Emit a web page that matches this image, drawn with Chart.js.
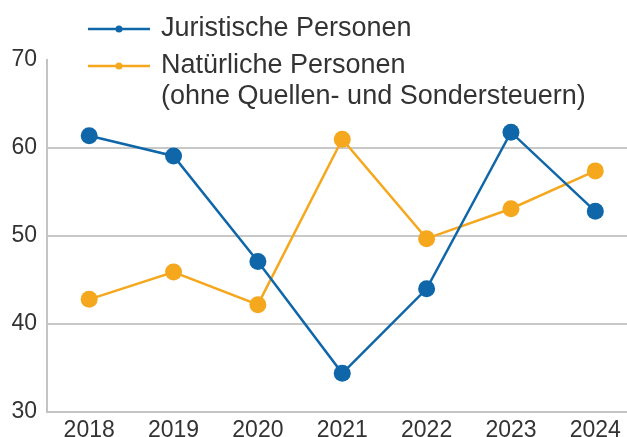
<!DOCTYPE html>
<html>
<head>
<meta charset="utf-8">
<script src="https://cdn.jsdelivr.net/npm/chart.js@4/dist/chart.umd.min.js"></script>
<style>
  html, body { margin: 0; padding: 0; background: #fff; overflow: hidden; }
  #wrap { width: 646px; height: 437px; }
</style>
</head>
<body>
<div id="wrap"><canvas id="chart" width="646" height="437"></canvas></div>
<script>
// Daten
const jahre = ['2018', '2019', '2020', '2021', '2022', '2023', '2024'];
const juristisch = [61.4, 59.1, 47.1, 34.4, 44.0, 61.8, 52.8];
const natuerlich = [42.8, 45.9, 42.2, 61.0, 49.7, 53.1, 57.4];
const yTicks = [30, 40, 50, 60, 70];

const blau = '#0f67a9';
const orange = '#f5a81e';
const schrift = 'Liberation Sans, Arial, sans-serif';

// Legende oben links, über dem Diagramm
const legendePlugin = {
    id: 'legende',
    afterDraw(chart) {
        const ctx = chart.ctx;
        const zeilen = [29, 66];
        ctx.save();
        ctx.font = '27px ' + schrift;
        ctx.textBaseline = 'middle';
        chart.data.datasets.forEach((ds, i) => {
            const y = zeilen[i];
            ctx.strokeStyle = ds.borderColor;
            ctx.lineWidth = 2.5;
            ctx.beginPath();
            ctx.moveTo(88, y);
            ctx.lineTo(150, y);
            ctx.stroke();
            ctx.fillStyle = ds.borderColor;
            ctx.beginPath();
            ctx.arc(119, y, 3.5, 0, Math.PI * 2);
            ctx.fill();
            ctx.fillStyle = '#333';
            const label = Array.isArray(ds.label) ? ds.label : [ds.label];
            label.forEach((t, j) => ctx.fillText(t, 161, y + j * 31));
        });
        ctx.restore();
    }
};

new Chart(document.getElementById('chart'), {
    type: 'line',
    data: {
        labels: jahre,
        datasets: [
            {
                label: 'Juristische Personen',
                data: juristisch,
                borderColor: blau,
                backgroundColor: blau,
                borderWidth: 2.5,
                pointRadius: 8.5,
                pointBorderWidth: 0,
                tension: 0
            },
            {
                label: ['Natürliche Personen', '(ohne Quellen- und Sondersteuern)'],
                data: natuerlich,
                borderColor: orange,
                backgroundColor: orange,
                borderWidth: 2.5,
                pointRadius: 8.5,
                pointBorderWidth: 0,
                tension: 0
            }
        ]
    },
    options: {
        responsive: false,
        animation: false,
        layout: { padding: { top: 60, right: 0, left: 0, bottom: 0 } },
        plugins: {
            legend: { display: false },
            tooltip: { enabled: false }
        },
        scales: {
            x: {
                offset: true,
                grid: { display: false, drawTicks: false },
                border: { display: true, color: '#c4c4c4', width: 2 },
                ticks: { color: '#333', font: { family: schrift, size: 23 }, padding: 5, maxRotation: 0 },
                afterFit(scale) { scale.height = 25; }
            },
            y: {
                min: 30,
                max: 70,
                afterBuildTicks(scale) { scale.ticks = yTicks.map(v => ({ value: v })); },
                grid: {
                    drawTicks: false,
                    lineWidth: 2,
                    color: c => (c.tick && c.tick.value > 30 && c.tick.value < 70) ? '#c8c8c8' : 'rgba(0,0,0,0)'
                },
                border: { display: true, color: '#c4c4c4', width: 2 },
                ticks: { color: '#333', font: { family: schrift, size: 23 }, padding: 10 },
                afterFit(scale) { scale.width = 47; }
            }
        }
    },
    plugins: [legendePlugin]
});
</script>
</body>
</html>
